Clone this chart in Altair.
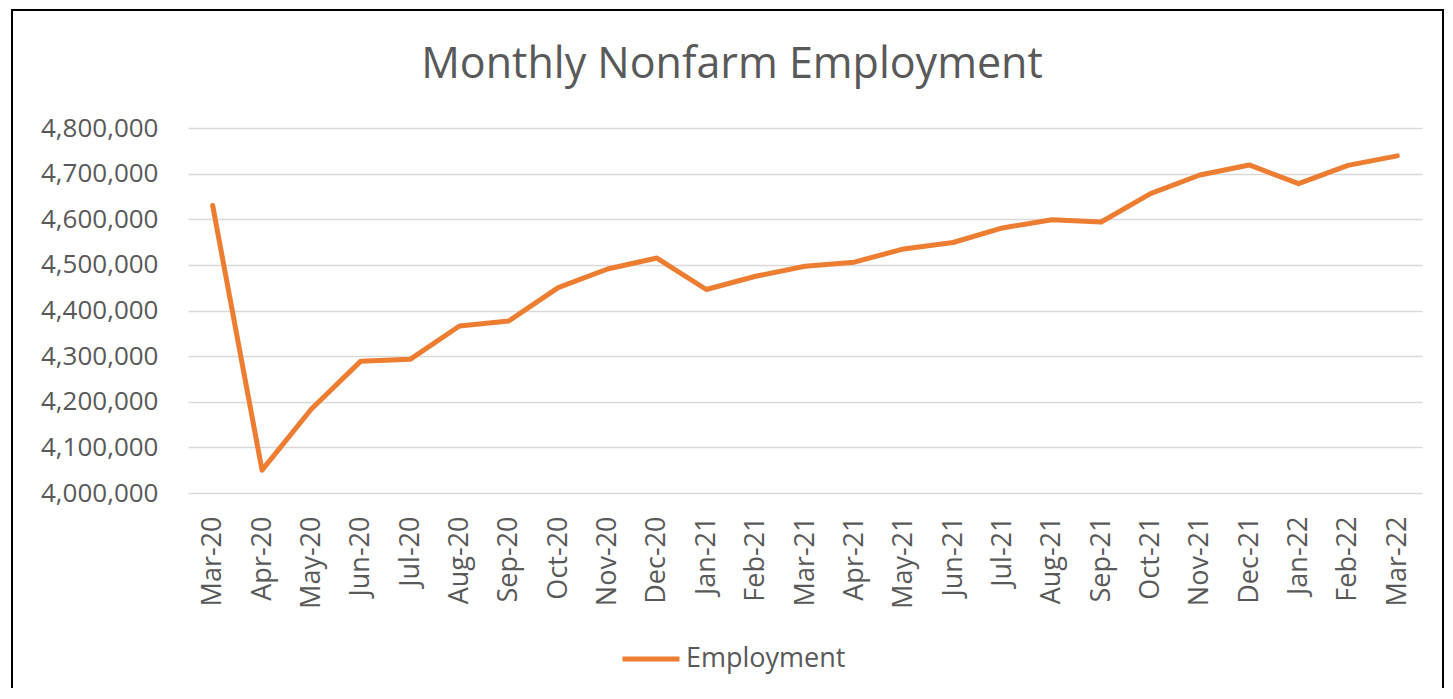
import altair as alt
import pandas as pd

months = ["Mar-20", "Apr-20", "May-20", "Jun-20", "Jul-20", "Aug-20", "Sep-20",
          "Oct-20", "Nov-20", "Dec-20", "Jan-21", "Feb-21", "Mar-21", "Apr-21",
          "May-21", "Jun-21", "Jul-21", "Aug-21", "Sep-21", "Oct-21", "Nov-21",
          "Dec-21", "Jan-22", "Feb-22", "Mar-22"]
employment = [4630000, 4050000, 4184000, 4289000, 4293000, 4366000, 4377000,
              4450000, 4491000, 4515000, 4446000, 4475000, 4497000, 4506000,
              4535000, 4549000, 4581000, 4599000, 4594000, 4656000, 4697000,
              4719000, 4678000, 4718000, 4739000]
y_ticks = [4000000, 4100000, 4200000, 4300000, 4400000, 4500000, 4600000,
           4700000, 4800000]
series_name = "Employment"
title_text = "Monthly Nonfarm Employment"

df = pd.DataFrame({"Month": months, "Employment": employment,
                   "Series": [series_name] * len(months)})

FONT = "Open Sans"
TXT = "#595959"
ORANGE = "#ED7D31"

line = alt.Chart(df).mark_line(
    strokeWidth=5, strokeCap="round", strokeJoin="round"
).encode(
    x=alt.X("Month:O", sort=months, title=None,
            scale=alt.Scale(padding=0.5),
            axis=alt.Axis(labelAngle=270, labelFontSize=27, labelColor=TXT,
                          labelFont=FONT, ticks=False, tickSize=0,
                          labelPadding=23, domain=False, grid=False)),
    y=alt.Y("Employment:Q", title=None,
            scale=alt.Scale(domain=[4000000, 4800000], nice=False, zero=False),
            axis=alt.Axis(values=y_ticks, format=",.0f", labelFontSize=26,
                          labelColor=TXT, labelFont=FONT, ticks=False,
                          tickSize=0, labelPadding=30, domain=False,
                          grid=True, gridColor="#D9D9D9", gridWidth=1.5)),
    color=alt.Color("Series:N", title=None,
                    scale=alt.Scale(domain=[series_name], range=[ORANGE]),
                    legend=alt.Legend(orient="none", legendX=432, legendY=500,
                                      symbolType="stroke", symbolSize=3249,
                                      symbolStrokeWidth=5, labelFontSize=27,
                                      labelFont=FONT, labelColor=TXT,
                                      labelOffset=4, padding=0)),
)

frame = alt.Chart(alt.Data(values=[{}])).mark_rect(
    filled=False, stroke="black", strokeWidth=2
).encode(
    x=alt.value(-176), x2=alt.value(1255),
    y=alt.value(-118), y2=alt.value(620),
)

chart = alt.layer(frame, line).properties(
    width=1234, height=365,
    padding={"left": 180, "top": 120, "right": 23, "bottom": 195},
    autosize=alt.AutoSizeParams(type="none"),
    background="white",
    title=alt.TitleParams(title_text, fontSize=43, font=FONT, color=TXT,
                          fontWeight="normal", anchor="middle", dx=-73,
                          offset=0, dy=121, baseline="bottom"),
).configure_view(stroke=None)

chart.save("out.html", embed_options={"renderer": "svg", "actions": False})
